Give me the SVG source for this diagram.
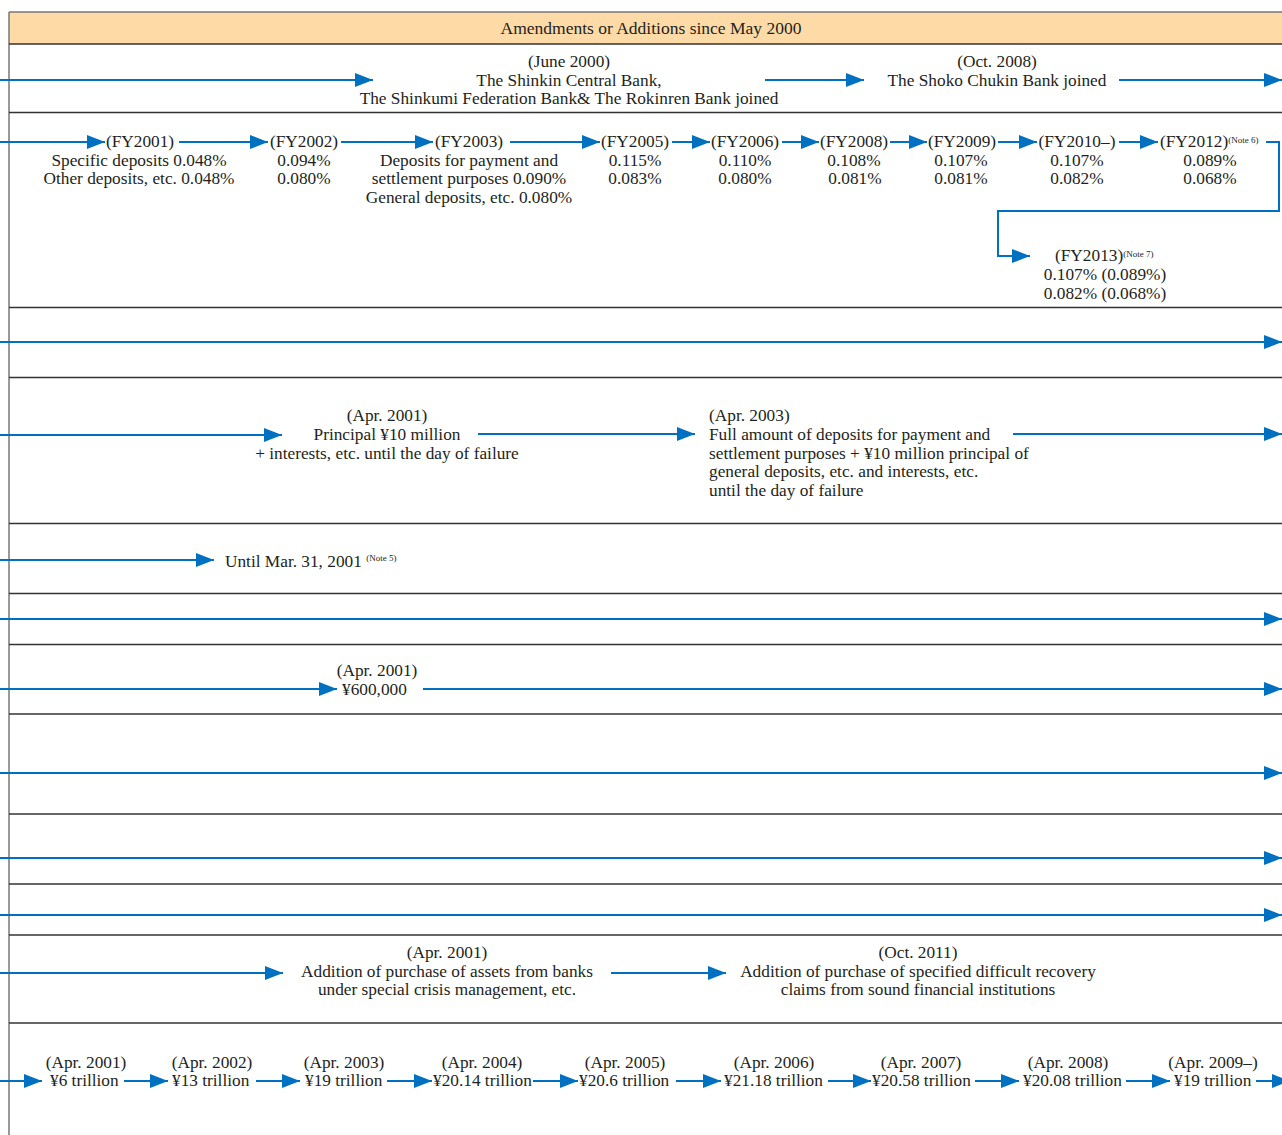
<svg xmlns="http://www.w3.org/2000/svg" width="1282" height="1135" viewBox="0 0 1282 1135">
  <style>
    text { font-family: "Liberation Serif", "Times New Roman", serif; font-size: 17.3px; fill: #231F20; }
    .c { text-anchor: middle; }
    .note { font-size: 9px; }
    .sep { stroke: #333333; stroke-width: 1.5; fill: none; }
    .arr { stroke: #0070C0; stroke-width: 2; fill: none; marker-end: url(#head); }
  </style>
  <defs>
    <marker id="head" markerUnits="userSpaceOnUse" markerWidth="18" markerHeight="14" refX="18" refY="7" orient="auto">
      <path d="M0,0 L18,7 L0,14 Z" fill="#0070C0"/>
    </marker>
  </defs>

  <rect width="1282" height="1135" fill="#ffffff"/>

  <!-- table frame -->
  <g id="frame">
    <rect x="9" y="12" width="1280" height="32" fill="#FDDAA6" stroke="none"/>
    <line x1="9" y1="12" x2="1282" y2="12" stroke="#777777" stroke-width="1.5"/>
    <line x1="9" y1="12" x2="9" y2="1135" stroke="#777777" stroke-width="1.5"/>
    <line class="sep" x1="9" y1="44" x2="1282" y2="44"/>
    <line class="sep" x1="9" y1="112.5" x2="1282" y2="112.5"/>
    <line class="sep" x1="9" y1="307.5" x2="1282" y2="307.5"/>
    <line class="sep" x1="9" y1="377.5" x2="1282" y2="377.5"/>
    <line class="sep" x1="9" y1="523.5" x2="1282" y2="523.5"/>
    <line class="sep" x1="9" y1="593.5" x2="1282" y2="593.5"/>
    <line class="sep" x1="9" y1="644.5" x2="1282" y2="644.5"/>
    <line class="sep" x1="9" y1="714" x2="1282" y2="714"/>
    <line class="sep" x1="9" y1="814" x2="1282" y2="814"/>
    <line class="sep" x1="9" y1="884" x2="1282" y2="884"/>
    <line class="sep" x1="9" y1="935" x2="1282" y2="935"/>
    <line class="sep" x1="9" y1="1023" x2="1282" y2="1023"/>
    <text id="header" class="c" x="651" y="34" style="font-size:17.5px">Amendments or Additions since May 2000</text>
  </g>

  <!-- connectors -->
  <g id="connectors">
    <!-- members -->
    <line class="arr" x1="0" y1="80" x2="373" y2="80"/>
    <line class="arr" x1="765" y1="80" x2="864" y2="80"/>
    <line class="arr" x1="1119" y1="80" x2="1282" y2="80"/>
    <!-- premium rates -->
    <line class="arr" x1="0" y1="142" x2="105" y2="142"/>
    <line class="arr" x1="179" y1="142" x2="268" y2="142"/>
    <line class="arr" x1="341" y1="142" x2="433" y2="142"/>
    <line class="arr" x1="510" y1="142" x2="600" y2="142"/>
    <line class="arr" x1="672" y1="142" x2="710" y2="142"/>
    <line class="arr" x1="782" y1="142" x2="819" y2="142"/>
    <line class="arr" x1="890" y1="142" x2="927" y2="142"/>
    <line class="arr" x1="998" y1="142" x2="1037" y2="142"/>
    <line class="arr" x1="1119" y1="142" x2="1158" y2="142"/>
    <polyline class="arr" points="1266,142 1279,142 1279,211 998,211 998,256 1030,256"/>
    <!-- full-width rows -->
    <line class="arr" x1="0" y1="342" x2="1282" y2="342"/>
    <!-- coverage -->
    <line class="arr" x1="0" y1="435" x2="282" y2="435"/>
    <line class="arr" x1="478" y1="434" x2="695" y2="434"/>
    <line class="arr" x1="1013" y1="434" x2="1282" y2="434"/>
    <line class="arr" x1="0" y1="560" x2="214" y2="560"/>
    <line class="arr" x1="0" y1="619" x2="1282" y2="619"/>
    <line class="arr" x1="0" y1="689" x2="337" y2="689"/>
    <line class="arr" x1="423" y1="689" x2="1282" y2="689"/>
    <line class="arr" x1="0" y1="773" x2="1282" y2="773"/>
    <line class="arr" x1="0" y1="858" x2="1282" y2="858"/>
    <line class="arr" x1="0" y1="915" x2="1282" y2="915"/>
    <!-- asset purchase -->
    <line class="arr" x1="0" y1="973" x2="283" y2="973"/>
    <line class="arr" x1="611" y1="973" x2="726" y2="973"/>
    <!-- borrowing limit -->
    <line class="arr" x1="0" y1="1081" x2="42" y2="1081"/>
    <line class="arr" x1="124" y1="1081" x2="168" y2="1081"/>
    <line class="arr" x1="256" y1="1081" x2="300" y2="1081"/>
    <line class="arr" x1="387" y1="1081" x2="432" y2="1081"/>
    <line class="arr" x1="533" y1="1081" x2="578" y2="1081"/>
    <line class="arr" x1="676" y1="1081" x2="721" y2="1081"/>
    <line class="arr" x1="828" y1="1081" x2="871" y2="1081"/>
    <line class="arr" x1="975" y1="1081" x2="1019" y2="1081"/>
    <line class="arr" x1="1126" y1="1081" x2="1170" y2="1081"/>
    <line class="arr" x1="1256" y1="1081" x2="1290" y2="1081"/>
  </g>

  <!-- members -->
  <g id="n-june2000">
    <text class="c" x="569" y="67">(June 2000)</text>
    <text class="c" x="569" y="86">The Shinkin Central Bank,</text>
    <text class="c" x="569" y="104">The Shinkumi Federation Bank&amp; The Rokinren Bank joined</text>
  </g>
  <g id="n-oct2008">
    <text class="c" x="997" y="67">(Oct. 2008)</text>
    <text class="c" x="997" y="86">The Shoko Chukin Bank joined</text>
  </g>

  <!-- premium rates -->
  <g id="n-fy2001">
    <text class="c" x="140" y="147">(FY2001)</text>
    <text class="c" x="139" y="166">Specific deposits 0.048%</text>
    <text class="c" x="139" y="184">Other deposits, etc. 0.048%</text>
  </g>
  <g id="n-fy2002">
    <text class="c" x="304" y="147">(FY2002)</text>
    <text class="c" x="304" y="166">0.094%</text>
    <text class="c" x="304" y="184">0.080%</text>
  </g>
  <g id="n-fy2003">
    <text class="c" x="469" y="147">(FY2003)</text>
    <text class="c" x="469" y="166">Deposits for payment and</text>
    <text class="c" x="469" y="184">settlement purposes 0.090%</text>
    <text class="c" x="469" y="203">General deposits, etc. 0.080%</text>
  </g>
  <g id="n-fy2005">
    <text class="c" x="635" y="147">(FY2005)</text>
    <text class="c" x="635" y="166">0.115%</text>
    <text class="c" x="635" y="184">0.083%</text>
  </g>
  <g id="n-fy2006">
    <text class="c" x="745" y="147">(FY2006)</text>
    <text class="c" x="745" y="166">0.110%</text>
    <text class="c" x="745" y="184">0.080%</text>
  </g>
  <g id="n-fy2008">
    <text class="c" x="854" y="147">(FY2008)</text>
    <text class="c" x="854" y="166">0.108%</text>
    <text class="c" x="855" y="184">0.081%</text>
  </g>
  <g id="n-fy2009">
    <text class="c" x="962" y="147">(FY2009)</text>
    <text class="c" x="961" y="166">0.107%</text>
    <text class="c" x="961" y="184">0.081%</text>
  </g>
  <g id="n-fy2010">
    <text class="c" x="1077" y="147">(FY2010–)</text>
    <text class="c" x="1077" y="166">0.107%</text>
    <text class="c" x="1077" y="184">0.082%</text>
  </g>
  <g id="n-fy2012">
    <text x="1160" y="147">(FY2012)<tspan class="note" dy="-4">(Note 6)</tspan></text>
    <text class="c" x="1210" y="166">0.089%</text>
    <text class="c" x="1210" y="184">0.068%</text>
  </g>
  <g id="n-fy2013">
    <text x="1055" y="261">(FY2013)<tspan class="note" dy="-4">(Note 7)</tspan></text>
    <text class="c" x="1105" y="280">0.107% (0.089%)</text>
    <text class="c" x="1105" y="299">0.082% (0.068%)</text>
  </g>

  <!-- coverage -->
  <g id="n-apr2001-cov">
    <text class="c" x="387" y="421">(Apr. 2001)</text>
    <text class="c" x="387" y="440">Principal ¥10 million</text>
    <text class="c" x="387" y="459">+ interests, etc. until the day of failure</text>
  </g>
  <g id="n-apr2003-cov">
    <text x="709" y="421">(Apr. 2003)</text>
    <text x="709" y="440">Full amount of deposits for payment and</text>
    <text x="709" y="459">settlement purposes + ¥10 million principal of</text>
    <text x="709" y="477">general deposits, etc. and interests, etc.</text>
    <text x="709" y="496">until the day of failure</text>
  </g>
  <g id="n-mar2001">
    <text x="225" y="567">Until Mar. 31, 2001 <tspan class="note" dy="-6">(Note 5)</tspan></text>
  </g>
  <g id="n-apr2001-600k">
    <text class="c" x="377" y="676">(Apr. 2001)</text>
    <text x="342" y="695">¥600,000</text>
  </g>

  <!-- asset purchase -->
  <g id="n-apr2001-assets">
    <text class="c" x="447" y="958">(Apr. 2001)</text>
    <text class="c" x="447" y="977">Addition of purchase of assets from banks</text>
    <text class="c" x="447" y="995">under special crisis management, etc.</text>
  </g>
  <g id="n-oct2011">
    <text class="c" x="918" y="958">(Oct. 2011)</text>
    <text class="c" x="918" y="977">Addition of purchase of specified difficult recovery</text>
    <text class="c" x="918" y="995">claims from sound financial institutions</text>
  </g>

  <!-- borrowing limit -->
  <g id="n-lim2001">
    <text class="c" x="86" y="1068">(Apr. 2001)</text>
    <text x="50" y="1086">¥6 trillion</text>
  </g>
  <g id="n-lim2002">
    <text class="c" x="212" y="1068">(Apr. 2002)</text>
    <text x="172" y="1086">¥13 trillion</text>
  </g>
  <g id="n-lim2003">
    <text class="c" x="344" y="1068">(Apr. 2003)</text>
    <text x="305" y="1086">¥19 trillion</text>
  </g>
  <g id="n-lim2004">
    <text class="c" x="482" y="1068">(Apr. 2004)</text>
    <text x="433" y="1086">¥20.14 trillion</text>
  </g>
  <g id="n-lim2005">
    <text class="c" x="625" y="1068">(Apr. 2005)</text>
    <text x="579" y="1086">¥20.6 trillion</text>
  </g>
  <g id="n-lim2006">
    <text class="c" x="774" y="1068">(Apr. 2006)</text>
    <text x="724" y="1086">¥21.18 trillion</text>
  </g>
  <g id="n-lim2007">
    <text class="c" x="921" y="1068">(Apr. 2007)</text>
    <text x="872" y="1086">¥20.58 trillion</text>
  </g>
  <g id="n-lim2008">
    <text class="c" x="1068" y="1068">(Apr. 2008)</text>
    <text x="1023" y="1086">¥20.08 trillion</text>
  </g>
  <g id="n-lim2009">
    <text class="c" x="1213" y="1068">(Apr. 2009–)</text>
    <text x="1174" y="1086">¥19 trillion</text>
  </g>
</svg>
